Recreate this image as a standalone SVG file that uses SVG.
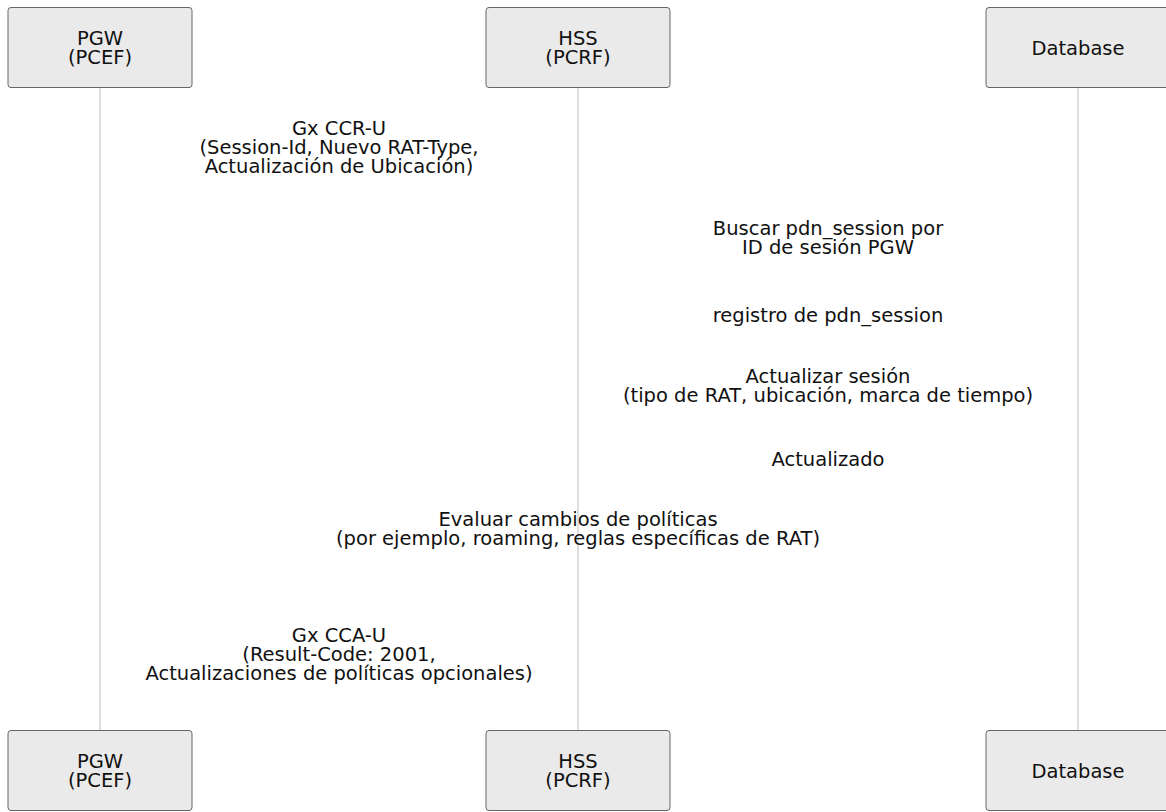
<svg xmlns="http://www.w3.org/2000/svg" width="1166" height="812" viewBox="0 0 1166 812">
<style>
.box{fill:#eaeaea;stroke:#666;stroke-width:1}
.life{stroke:#bdbdbd;stroke-width:1}
text{font-family:"DejaVu Sans","Noto Sans",sans-serif;font-size:19.5px;fill:#111;text-anchor:middle}
</style>
<rect width="1166" height="812" fill="#fff"/>
<g id="connectors">
<line class="life" x1="100" y1="87.5" x2="100" y2="730.5"/>
<line class="life" x1="578" y1="87.5" x2="578" y2="730.5"/>
<line class="life" x1="1078" y1="87.5" x2="1078" y2="730.5"/>
</g>
<g id="pgw-top"><rect class="box" x="8" y="7.5" width="184" height="80" rx="3"/><text x="100" y="45">PGW</text><text x="100" y="64">(PCEF)</text></g>
<g id="hss-top"><rect class="box" x="486" y="7.5" width="184" height="80" rx="3"/><text x="578" y="45">HSS</text><text x="578" y="64">(PCRF)</text></g>
<g id="db-top"><rect class="box" x="986" y="7.5" width="184" height="80" rx="3"/><text x="1078" y="55">Database</text></g>
<g id="pgw-bottom"><rect class="box" x="8" y="730.5" width="184" height="80" rx="3"/><text x="100" y="768">PGW</text><text x="100" y="787">(PCEF)</text></g>
<g id="hss-bottom"><rect class="box" x="486" y="730.5" width="184" height="80" rx="3"/><text x="578" y="768">HSS</text><text x="578" y="787">(PCRF)</text></g>
<g id="db-bottom"><rect class="box" x="986" y="730.5" width="184" height="80" rx="3"/><text x="1078" y="778">Database</text></g>
<g id="labels">
<text x="339" y="135">Gx CCR-U</text>
<text x="339" y="154">(Session-Id, Nuevo RAT-Type,</text>
<text x="339" y="173">Actualización de Ubicación)</text>
<text x="828" y="235">Buscar pdn_session por</text>
<text x="828" y="254">ID de sesión PGW</text>
<text x="828" y="322">registro de pdn_session</text>
<text x="828" y="383">Actualizar sesión</text>
<text x="828" y="402">(tipo de RAT, ubicación, marca de tiempo)</text>
<text x="828" y="466">Actualizado</text>
<text x="578" y="526">Evaluar cambios de políticas</text>
<text x="578" y="545">(por ejemplo, roaming, reglas específicas de RAT)</text>
<text x="339" y="642">Gx CCA-U</text>
<text x="339" y="661">(Result-Code: 2001,</text>
<text x="339" y="680">Actualizaciones de políticas opcionales)</text>
</g>
</svg>
